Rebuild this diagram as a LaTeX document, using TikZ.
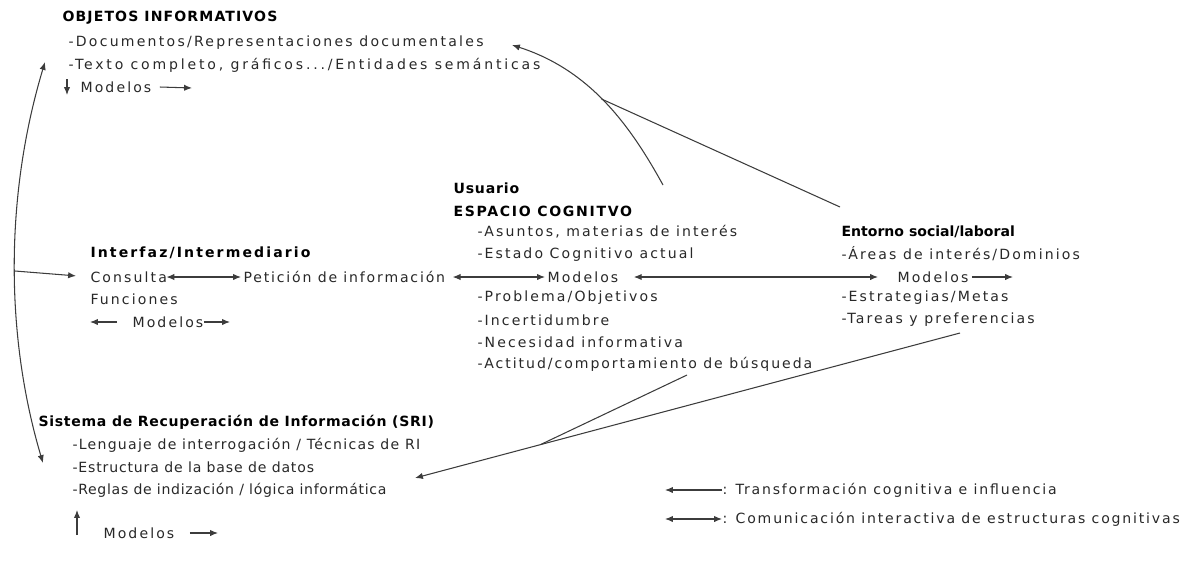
\documentclass[tikz,border=0pt]{standalone}
\usepackage{fontspec}
\setmainfont{DejaVu Sans}
\usetikzlibrary{arrows.meta, positioning}
\definecolor{Gris80}{RGB}{40, 40, 40}
\definecolor{Gris60}{RGB}{60, 60, 60}
\tikzset{
    texto/.style = {anchor=west, inner sep=0pt, text=Gris80, font=\fontsize{8}{10}\selectfont\addfontfeature{LetterSpace=#1}},
    texto/.default = 15,
    titulo/.style = {anchor=west, inner sep=0pt, text=black, font=\fontsize{8}{10}\selectfont\bfseries\addfontfeature{LetterSpace=#1}},
    titulo/.default = 6,
    flecha/.style = {draw=Gris60, arrows = {-Latex[length=4.5pt, width=3.6pt]}},
    flecha doble/.style = {draw=Gris60, arrows = {Latex[length=4.5pt, width=3.6pt]-Latex[length=4.5pt, width=3.6pt]}},
    linea/.style = {draw=Gris60}
}

\begin{document}
\begin{tikzpicture}[x=0.02cm, y=-0.02cm, line width=0.6pt]
    \useasboundingbox (0,0) rectangle (1189,562);

    %%% Objetos informativos
    \node[titulo=8]  (objetos)    at (62,18) {OBJETOS INFORMATIVOS};
    \node[texto=16]  (documentos) at (68,43) {-Documentos/Representaciones documentales};
    \node[texto=20]  (entidades)  at (68,65) {-Texto completo, gráficos.../Entidades semánticas};
    \node[texto]     (modobj)     at (80,87) {Modelos};
    \coordinate (objA) at (67,79);
    \coordinate (objB) at (67,95);
    \coordinate (objC) at (192,88);
    \draw[flecha] (objA) -- (objB);
    \draw[flecha] ([xshift=0.16cm]modobj.east) -- (objC);

    %%% Interfaz
    \node[titulo=15] (interfaz)  at (90,253)  {Interfaz/Intermediario};
    \node[texto]     (consulta)  at (90,277)  {Consulta};
    \node[texto=13]  (peticion)  at (243,277) {Petición de información};
    \node[texto]     (funciones) at (90,299)  {Funciones};
    \node[texto]     (modint)    at (132,322) {Modelos};
    \coordinate (intA) at (90,322);
    \coordinate (intB) at (230,322);
    \draw[flecha] ([xshift=-0.3cm]modint.west) -- (intA);
    \draw[flecha] (modint.east) -- (intB);

    %%% Usuario
    \node[titulo]    (usuario)   at (453,188) {Usuario};
    \node[titulo=12] (espacio)   at (453,211) {ESPACIO COGNITVO};
    \node[texto]     (asuntos)   at (477,232) {-Asuntos, materias de interés};
    \node[texto]     (estado)    at (477,255) {-Estado Cognitivo actual};
    \node[texto]     (modusu)    at (547,277) {Modelos};
    \node[texto]     (problema)  at (477,298) {-Problema/Objetivos};
    \node[texto]     (incert)    at (477,320) {-Incertidumbre};
    \node[texto]     (necesidad) at (477,342) {-Necesidad informativa};
    \node[texto=14]  (actitud)   at (477,364) {-Actitud/comportamiento de búsqueda};

    %%% Entorno
    \node[titulo=0]  (entorno)     at (841,232) {Entorno social/laboral};
    \node[texto]     (areas)       at (841,254) {-Áreas de interés/Dominios};
    \node[texto]     (modent)      at (897,277) {Modelos};
    \node[texto]     (estrategias) at (841,298) {-Estrategias/Metas};
    \node[texto]     (tareas)      at (841,320) {-Tareas y preferencias};
    \coordinate (entC) at (1013,277);

    %%% SRI
    \node[titulo=5]  (sri)        at (38,422) {Sistema de Recuperación de Información (SRI)};
    \node[texto=9]   (lenguaje)   at (72,445) {-Lenguaje de interrogación / Técnicas de RI};
    \node[texto=6]   (estructura) at (72,467) {-Estructura de la base de datos};
    \node[texto=5]   (reglas)     at (72,490) {-Reglas de indización / lógica informática};
    \node[texto]     (modsri)     at (103,533) {Modelos};
    \coordinate (sriA) at (77,535);
    \coordinate (sriB) at (77,510);
    \coordinate (sriC) at (218,533);
    \draw[flecha] (sriA) -- (sriB);
    \draw[flecha] ([xshift=0.3cm]modsri.east) -- (sriC);

    % comunicacion entre modelos
    \draw[flecha doble] ([xshift=-0.02cm]consulta.east) -- ([xshift=-0.04cm]peticion.west);
    \draw[flecha doble] ([xshift=0.14cm]peticion.east) -- ([xshift=-0.04cm]modusu.west);
    \draw[flecha doble] ([xshift=0.3cm]modusu.east) -- ([xshift=-0.38cm]modent.west);
    \draw[flecha] ([xshift=0.06cm]modent.east) -- (entC);

    % curva izquierda
    \coordinate (izqA) at (45,62);
    \coordinate (izqB) at (43,463);
    \coordinate (izqM) at (15,271);
    \draw[flecha doble] (izqA) .. controls (5,195) and (5,335) .. (izqB);
    \draw[flecha, shorten >=0.28cm] (izqM) -- (consulta.west);

    % influencias hacia objetos
    \coordinate (supA) at (663,185);
    \coordinate (supB) at (512,45);
    \coordinate (supC) at (840,207);
    \draw[flecha] (supA) .. controls (630,125) and (590,70) .. (supB) coordinate[pos=0.52] (juntaA);
    \draw[linea] (supC) -- (juntaA);

    % influencias hacia SRI
    \coordinate (infA) at (960,333);
    \coordinate (infB) at (415,478);
    \coordinate (infC) at (687,375);
    \draw[flecha] (infA) -- (infB) coordinate[pos=0.77] (juntaB);
    \draw[linea] (infC) -- (juntaB);

    %%% Leyenda
    \node[texto=13] (leyA) at (722,490) {: Transformación cognitiva e influencia};
    \node[texto=13] (leyB) at (722,519) {: Comunicación interactiva de estructuras cognitivas};
    \coordinate (leyAa) at (665,490);
    \coordinate (leyBa) at (665,519);
    \draw[flecha] (leyA.west) -- (leyAa);
    \draw[flecha doble] (leyB.west) -- (leyBa);
\end{tikzpicture}
\end{document}
